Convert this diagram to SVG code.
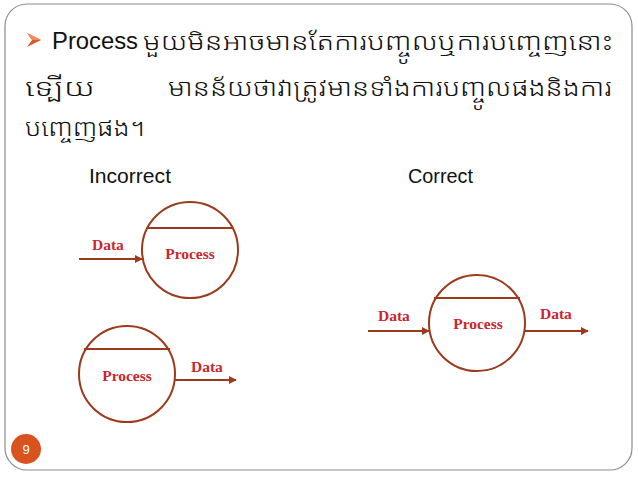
<svg xmlns="http://www.w3.org/2000/svg" width="638" height="478" viewBox="0 0 638 478">
<defs>
<style>
.frame{fill:#fff;stroke:#8c8c8c;stroke-width:1.2}
.km{font-family:"Noto Sans Khmer","Khmer OS","Khmer OS System","Noto Sans",sans-serif;font-size:24px;font-weight:300;fill:#111}
.en{font-family:"Liberation Sans",Arial,sans-serif;fill:#111}
.hd{font-family:"Liberation Sans",Arial,sans-serif;font-size:20px;fill:#111}
.circ{fill:none;stroke:#9b3a1c;stroke-width:2}
.bar{stroke:#9b3a1c;stroke-width:2}
.lbl{font-family:"Liberation Serif","Times New Roman",serif;font-weight:bold;font-size:15.5px;fill:#c8262c}
.flow{stroke:#9b3a1c;stroke-width:2;fill:none;marker-end:url(#ah)}
</style>
<marker id="ah" viewBox="0 0 10 10" refX="9" refY="5" markerWidth="4" markerHeight="4" orient="auto" markerUnits="strokeWidth">
<path d="M0,0 L10,5 L0,10 z" fill="#9b3a1c"/>
</marker>
</defs>
<rect class="frame" x="5" y="4" width="627" height="466" rx="22" ry="22"/>
<g id="title">
<path d="M27,33 L41,40 L27,47 L32,40 z" fill="#e0582a"/>
<path d="M27,33 L41,40 L32,40 z" fill="#f08a5a"/>
<text class="en" x="52" y="49" font-size="23" textLength="86" lengthAdjust="spacingAndGlyphs">Process</text>
<text class="km" x="143" y="50" textLength="470" lengthAdjust="spacingAndGlyphs">មួយមិនអាចមានតែការបញ្ចូលឬការបញ្ចេញនោះ</text>
<text class="km" x="25" y="96" textLength="70" lengthAdjust="spacingAndGlyphs">ទ្បើយ</text>
<text class="km" x="168" y="96" textLength="444" lengthAdjust="spacingAndGlyphs">មានន័យថាវាត្រូវមានទាំងការបញ្ចូលផងនិងការ</text>
<text class="km" x="25" y="136" textLength="120" lengthAdjust="spacingAndGlyphs">បញ្ចេញផង។</text>
</g>
<text class="hd" x="89" y="183" textLength="82" lengthAdjust="spacingAndGlyphs">Incorrect</text>
<text class="hd" x="408" y="183" textLength="65" lengthAdjust="spacingAndGlyphs">Correct</text>
<g id="p1">
<circle class="circ" cx="190" cy="250" r="48"/>
<line class="bar" x1="147" y1="228" x2="233" y2="228"/>
<text class="lbl" x="190" y="259" text-anchor="middle">Process</text>
</g>
<g id="p2">
<circle class="circ" cx="127" cy="374" r="48"/>
<line class="bar" x1="84" y1="349" x2="170" y2="349"/>
<text class="lbl" x="127" y="381" text-anchor="middle">Process</text>
</g>
<g id="p3">
<circle class="circ" cx="477" cy="323" r="48"/>
<line class="bar" x1="434" y1="298" x2="520" y2="298"/>
<text class="lbl" x="478" y="329" text-anchor="middle">Process</text>
</g>
<g id="connectors">
<line class="flow" x1="79" y1="259" x2="142" y2="259"/>
<text class="lbl" x="92" y="250">Data</text>
<line class="flow" x1="175" y1="380" x2="236" y2="380"/>
<text class="lbl" x="191" y="372">Data</text>
<line class="flow" x1="368" y1="331" x2="429" y2="331"/>
<text class="lbl" x="378" y="321">Data</text>
<line class="flow" x1="525" y1="331" x2="588" y2="331"/>
<text class="lbl" x="540" y="319">Data</text>
</g>
<g id="page">
<circle cx="26" cy="449" r="15" fill="#d9531e"/>
<text x="26" y="454" text-anchor="middle" font-family="Liberation Sans,Arial,sans-serif" font-size="13" fill="#fff">9</text>
</g>
</svg>
